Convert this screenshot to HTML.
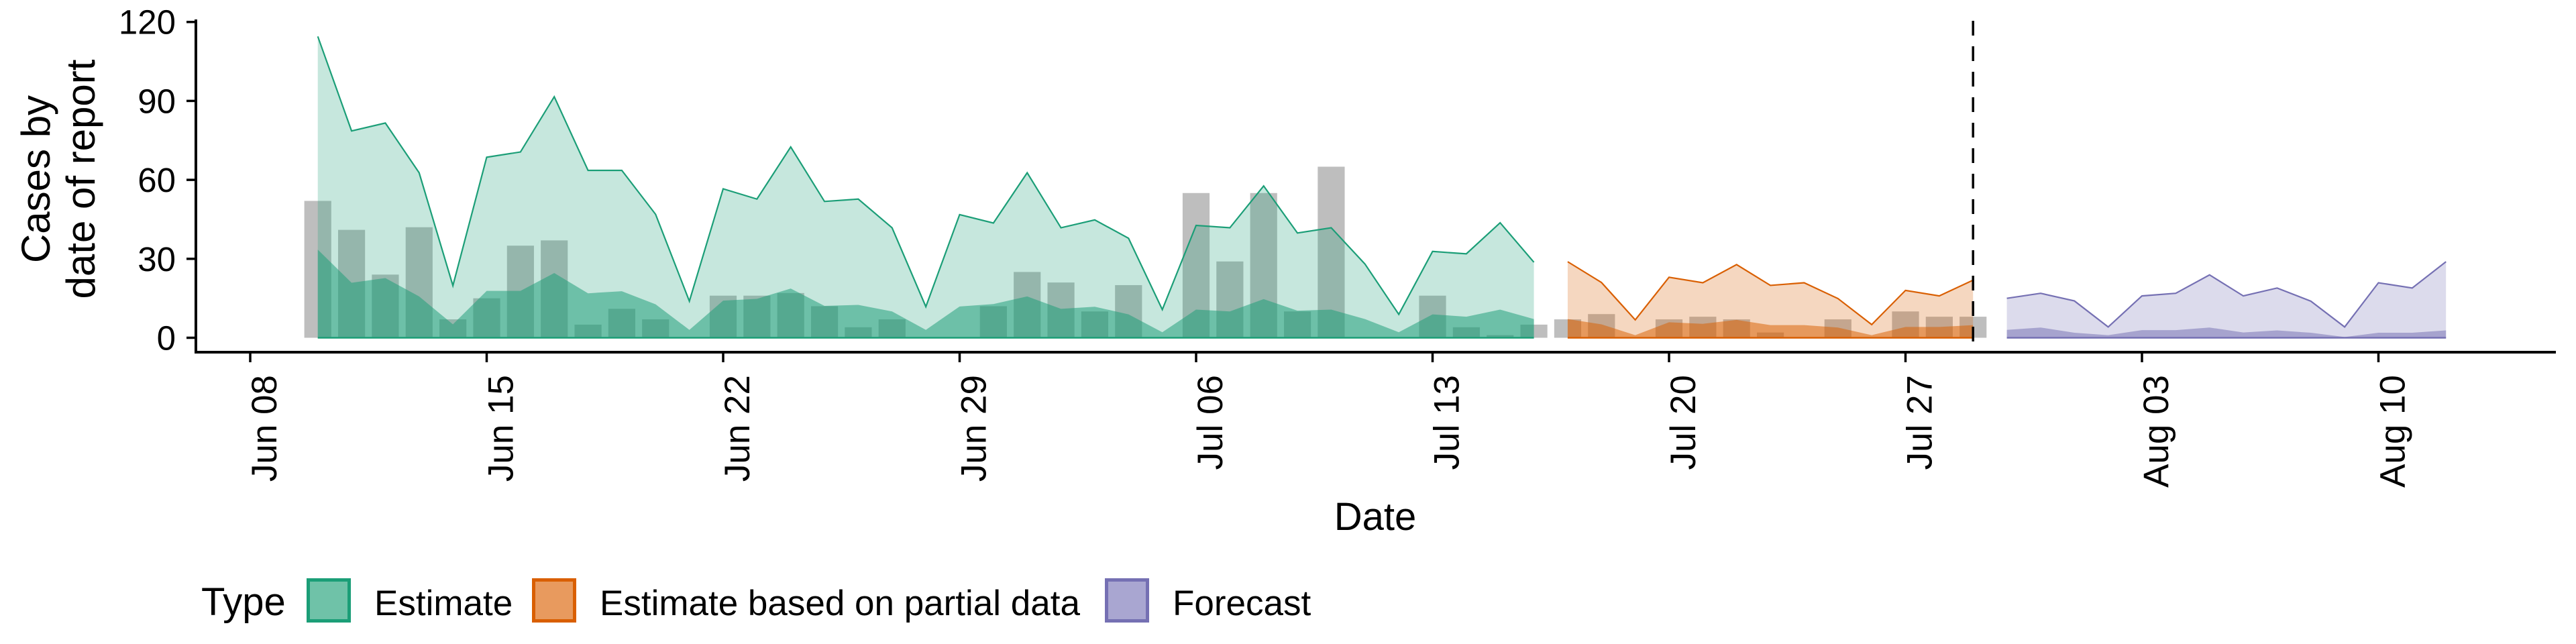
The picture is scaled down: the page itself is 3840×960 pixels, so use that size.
<!DOCTYPE html>
<html><head><meta charset="utf-8"><style>
html,body{margin:0;padding:0;background:#fff;}
svg{display:block;font-family:"Liberation Sans",Arial,sans-serif;}
</style></head><body>
<svg id="chart" width="3840" height="960" viewBox="0 0 3840 960" xmlns="http://www.w3.org/2000/svg">
<g id="bars"></g>
<g id="ribbons"></g>
<g id="axes"></g>
<text transform="translate(74,267) rotate(-90)" text-anchor="middle" font-size="60">Cases by</text>
<text transform="translate(141,267) rotate(-90)" text-anchor="middle" font-size="60">date of report</text>
<text x="2050" y="790" text-anchor="middle" font-size="58">Date</text>
<g>
<text x="300" y="917" font-size="58">Type</text>
<rect x="459.5" y="864.5" width="61" height="61" fill="#6fc2a8" stroke="#1b9e77" stroke-width="5"/>
<text x="558" y="917" font-size="53">Estimate</text>
<rect x="795.5" y="864.5" width="61" height="61" fill="#e89a5e" stroke="#d95f02" stroke-width="5"/>
<text x="894" y="917" font-size="53">Estimate based on partial data</text>
<rect x="1649.5" y="864.5" width="61" height="61" fill="#a9a6d1" stroke="#7570b3" stroke-width="5"/>
<text x="1748" y="917" font-size="53">Forecast</text>
</g>
</svg>
<script>
const startDate = "2020-06-08";
const reportedStart = "2020-06-10";
const reportedCases = [52,41,24,42,7,15,35,37,5,11,7,0,16,16,17,12,4,7,0,0,12,25,21,10,20,0,55,29,55,10,65,0,0,16,4,1,5,7,9,0,7,8,7,2,0,7,0,10,8,8];
const estimateStart = "2020-06-10";
const estimateUpper = [114.5,78.6,81.6,62.7,19.8,68.6,70.6,91.6,63.6,63.6,46.9,13.9,56.6,52.7,72.5,51.8,52.7,41.8,11.8,46.8,43.6,62.7,41.8,44.8,37.8,10.7,42.7,41.8,57.7,39.8,41.8,28,8.9,32.8,31.9,43.7,28.7];
const estimateLower = [33.5,20.9,22.7,15.7,5.1,17.8,17.8,24.6,16.9,17.7,12.7,3,14.1,14.8,18.7,12.1,12.5,10,3,11.9,12.8,15.7,11,11.8,8.9,2.1,10.7,10,14.7,10.3,10.7,7.1,2.1,8.9,8,10.7,7.1];
const partialStart = "2020-07-17";
const partialUpper = [28.9,21,6.8,23,20.9,27.8,19.9,20.9,14.9,5,18,15.9,21.9];
const partialLower = [7.1,5.1,1,5.9,5.3,6.8,4.8,4.8,3.9,1,4.1,4.1,4.8];
const forecastStart = "2020-07-30";
const forecastUpper = [15,16.9,14,4.1,15.9,16.9,23.9,15.9,18.9,13.9,4.1,20.9,18.9,28.9];
const forecastLower = [3,3.9,1.9,1,2.9,2.9,3.9,2,2.8,1.9,0.3,1.9,1.9,2.8];
const yTicks = [0,30,60,90,120];
const xTickLabels = ["Jun 08","Jun 15","Jun 22","Jun 29","Jul 06","Jul 13","Jul 20","Jul 27","Aug 03","Aug 10"];
const xTickDays = [0,7,14,21,28,35,42,49,56,63];
const forecastDate = "2020-07-29";

const NS = "http://www.w3.org/2000/svg";
const DAY = 86400000;
function dayIdx(s){return Math.round((Date.parse(s)-Date.parse(startDate))/DAY);}
function xS(d){return 373 + d*50.357;}
function yS(v){return 503.5 - v*3.923;}
function mk(tag, attrs, parent){const e=document.createElementNS(NS,tag);for(const k in attrs)e.setAttribute(k,attrs[k]);parent.appendChild(e);return e;}

const gb = document.getElementById('bars');
const rs = dayIdx(reportedStart);
reportedCases.forEach((v,i)=>{
  if(v<=0) return;
  const x = xS(rs+i);
  const r = mk('rect',{x:x-20.1,y:yS(v),width:40.2,height:yS(0)-yS(v),fill:'#bebebe'},gb);
  
  
});

const gr = document.getElementById('ribbons');
function ribbon(start, upper, lower, col, name){
  const s = dayIdx(start);
  const top = upper.map((v,i)=>xS(s+i)+','+yS(v));
  const x0 = xS(s), x1 = xS(s+upper.length-1);
  const p1 = mk('polygon',{points: top.join(' ')+' '+x1+','+yS(0)+' '+x0+','+yS(0), fill: col, 'fill-opacity':0.25},gr);
  
  
  const low = lower.map((v,i)=>xS(s+i)+','+yS(v));
  const p2 = mk('polygon',{points: low.join(' ')+' '+x1+','+yS(0)+' '+x0+','+yS(0), fill: col, 'fill-opacity':0.52},gr);
  
  
  const l1 = mk('polyline',{points: top.join(' '), fill:'none', stroke: col, 'stroke-width':2.2},gr);
  
  
  const l2 = mk('line',{x1:x0,y1:yS(0),x2:x1,y2:yS(0),stroke:col,'stroke-width':2.5},gr);
  
  
}
ribbon(estimateStart, estimateUpper, estimateLower, '#1b9e77', 'estimate');
ribbon(partialStart, partialUpper, partialLower, '#d95f02', 'partial');
ribbon(forecastStart, forecastUpper, forecastLower, '#7570b3', 'forecast');

const ga = document.getElementById('axes');
const fx = xS(dayIdx(forecastDate));
const dl = mk('line',{x1:fx,y1:31,x2:fx,y2:525,stroke:'#000','stroke-width':3.5,'stroke-dasharray':'22 16'},ga);


const ya = mk('line',{x1:292,y1:29,x2:292,y2:527,stroke:'#000','stroke-width':4},ga);


const xa = mk('line',{x1:290,y1:525,x2:3810,y2:525,stroke:'#000','stroke-width':4},ga);


yTicks.forEach(v=>{
  const t = mk('line',{x1:278,y1:yS(v),x2:292,y2:yS(v),stroke:'#000','stroke-width':3.5},ga);
  
  
  const tx = mk('text',{x:262,y:yS(v)+18,'text-anchor':'end','font-size':51},ga);
  tx.textContent = String(v);
  
  
});
xTickDays.forEach((d,i)=>{
  const x = xS(d);
  const t = mk('line',{x1:x,y1:525,x2:x,y2:540,stroke:'#000','stroke-width':3.5},ga);
  
  
  const tx = mk('text',{transform:'translate('+(x+39)+',559) rotate(-90)','text-anchor':'end','font-size':53},ga);
  tx.textContent = xTickLabels[i];
  
  
});
</script>
</body></html>
